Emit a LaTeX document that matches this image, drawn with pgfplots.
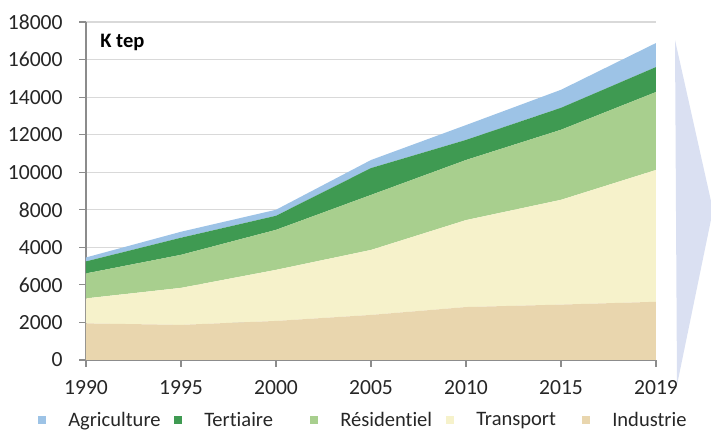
\documentclass[border=0pt]{standalone}
\usepackage{pgfplots}
\pgfplotsset{compat=1.18}
\usepackage{fontspec}
\setmainfont{Carlito}[Ligatures=NoCommon]

\definecolor{agri}{HTML}{9DC3E6}
\definecolor{tert}{HTML}{3F9A52}
\definecolor{resi}{HTML}{A8CF8E}
\definecolor{tran}{HTML}{F6F2CB}
\definecolor{indu}{HTML}{E9D6AE}
\definecolor{gridc}{HTML}{D9D9D9}
\definecolor{axisc}{HTML}{8C8C8C}
\definecolor{labc}{HTML}{262626}
\definecolor{arrowc}{HTML}{DAE0F2}

\newcommand{\lfont}{\fontsize{16.2}{19}\selectfont}
\newcommand{\gfont}{\fontsize{15.4}{18}\selectfont}

\begin{document}
\begin{tikzpicture}
\useasboundingbox (0,0) rectangle (533.25pt,325.5pt);
% decorative arrow on the right
\fill[arrowc] (506.25pt,295.5pt) -- (534.75pt,168pt) -- (507.75pt,36.75pt) -- cycle;

\begin{axis}[
    at={(64.5pt,55.5pt)}, anchor=south west,
    scale only axis, width=427.5pt, height=253.5pt,
    xmin=0, xmax=6, ymin=0, ymax=18000,
    axis lines*=left,
    axis line style={axisc, line width=0.8pt},
    xtick={0,...,6},
    xticklabels={1990,1995,2000,2005,2010,2015,2019},
    ytick={0,2000,...,18000},
    yticklabels={0,2000,6000,4000,8000,10000,12000,14000,16000,18000},
    scaled y ticks=false,
    tick align=outside, major tick length=5pt,
    tick style={axisc, line width=0.8pt},
    tick label style={font=\lfont, text=labc},
    yticklabel style={xshift=-9pt},
    xticklabel style={yshift=-6.5pt},
    ymajorgrids, grid style={gridc, line width=0.8pt},
    stack plots=y,
    legend columns=5,
    legend cell align=left,
    legend image code/.code={\fill[#1] (0pt,-3pt) rectangle (6pt,3pt);},
    legend style={at={(-0.0842,-0.178)}, anchor=west, draw=none, fill=none,
      inner sep=0pt, font=\gfont, text=labc,
      nodes={inner sep=0pt},
      /tikz/every odd column/.append style={column sep=16.5pt}},
  ]

  \addlegendimage{fill=agri, draw=none}
  \addlegendentry{\makebox[79.5pt][l]{Agriculture}}
  \addlegendimage{fill=tert, draw=none}
  \addlegendentry{\makebox[79.5pt][l]{Tertiaire}}
  \addlegendimage{fill=resi, draw=none}
  \addlegendentry{\makebox[79.5pt][l]{Résidentiel}}
  \addlegendimage{fill=tran, draw=none}
  \addlegendentry{\makebox[79.5pt][l]{Transport}}
  \addlegendimage{fill=indu, draw=none}
  \addlegendentry{Industrie}

  % Industrie
  \addplot[fill=indu, draw=none, forget plot] coordinates {
    (0,1950) (1,1870) (2,2080) (3,2400) (4,2820) (5,2950) (6,3100)} \closedcycle;
  % Transport
  \addplot[fill=tran, draw=none, forget plot] coordinates {
    (0,1330) (1,1970) (2,2720) (3,3460) (4,4630) (5,5580) (6,7020)} \closedcycle;
  % Residentiel
  \addplot[fill=resi, draw=none, forget plot] coordinates {
    (0,1330) (1,1760) (2,2130) (3,2930) (4,3200) (5,3730) (6,4150)} \closedcycle;
  % Tertiaire
  \addplot[fill=tert, draw=none, forget plot] coordinates {
    (0,640) (1,910) (2,750) (3,1430) (4,1070) (5,1170) (6,1330)} \closedcycle;
  % Agriculture
  \addplot[fill=agri, draw=none, forget plot] coordinates {
    (0,210) (1,320) (2,320) (3,430) (4,790) (5,960) (6,1280)} \closedcycle;

  \node[anchor=west, inner sep=0pt, font=\bfseries\gfont, text=black]
    at (rel axis cs:0.0246,0.94) {K tep};
\end{axis}
\end{tikzpicture}
\end{document}
